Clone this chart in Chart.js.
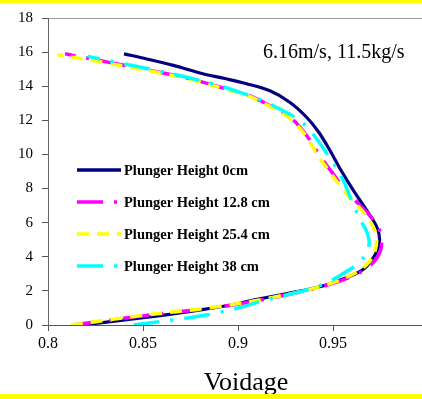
<!DOCTYPE html>
<html><head><meta charset="utf-8">
<script src="https://cdn.jsdelivr.net/npm/chart.js@4.4.0/dist/chart.umd.min.js"></script>
<style>
html,body{margin:0;padding:0;background:#fff;overflow:hidden;}
#wrap{position:relative;width:422px;height:399px;overflow:hidden;}
#topband{position:absolute;left:0;top:0;width:422px;height:3px;background:#ffff00;}
#botband{position:absolute;left:0;top:394px;width:422px;height:5px;background:#ffff00;}
canvas{position:absolute;left:0;top:0;}
</style></head><body>
<div id="wrap"><canvas id="c" width="444" height="399"></canvas><div id="topband"></div><div id="botband"></div></div>
<script>
// ---- data ----
const seriesLabels = ['Plunger Height 0cm', 'Plunger Height 12.8 cm', 'Plunger Height 25.4 cm', 'Plunger Height 38 cm'];
const heights0 = [0, 0.4, 0.8, 1.17, 1.46, 1.85, 2.24, 2.82, 3.31, 4.19, 4.97, 5.75, 6.72, 7.89, 9.16, 10.23, 11.3, 12.18, 13.05, 13.73, 14.16, 14.45, 14.75, 15.22, 15.6, 15.9];
const voidage0 = [0.818, 0.848, 0.875, 0.896, 0.908, 0.926, 0.943, 0.958, 0.9665, 0.9725, 0.9745, 0.973, 0.9677, 0.9607, 0.9537, 0.9484, 0.9425, 0.9361, 0.9274, 0.9168, 0.904, 0.893, 0.881, 0.866, 0.852, 0.840];
const heights1 = [0, 0.55, 1.07, 1.66, 2.34, 3.12, 3.7, 4.3, 4.97, 5.55, 6.33, 7.1, 7.7, 8.87, 9.94, 11.2, 12.18, 12.86, 13.44, 13.78, 14.43, 14.9, 15.4, 15.9];
const voidage1 = [0.813, 0.851, 0.891, 0.921, 0.947, 0.965, 0.9715, 0.9748, 0.9756, 0.9745, 0.970, 0.9635, 0.958, 0.950, 0.943, 0.9355, 0.9274, 0.9168, 0.9063, 0.8958, 0.875, 0.855, 0.832, 0.809];
const heights2 = [0, 0.55, 1.07, 1.66, 2.34, 3.12, 3.7, 4.3, 4.97, 5.55, 6.33, 7.1, 7.7, 8.87, 9.94, 11.2, 12.18, 12.86, 13.44, 13.78, 14.43, 14.9, 15.4, 15.85];
const voidage2 = [0.812, 0.849, 0.889, 0.920, 0.946, 0.963, 0.969, 0.972, 0.973, 0.972, 0.968, 0.962, 0.957, 0.949, 0.942, 0.935, 0.9265, 0.916, 0.9055, 0.895, 0.874, 0.853, 0.829, 0.805];
const heights3 = [0, 0.3, 0.6, 1.0, 1.46, 2.05, 2.5, 3.02, 3.5, 4.1, 4.77, 5.4, 5.94, 7.1, 8.47, 9.84, 11.4, 12.1, 12.66, 13.2, 13.64, 14.1, 14.5, 14.95, 15.35, 15.75];
const voidage3 = [0.845, 0.866, 0.884, 0.900, 0.9145, 0.936, 0.947, 0.9554, 0.962, 0.967, 0.969, 0.968, 0.9655, 0.9605, 0.9554, 0.948, 0.938, 0.931, 0.922, 0.912, 0.901, 0.888, 0.874, 0.856, 0.838, 0.821];
const xTickValues = [0.8, 0.85, 0.9, 0.95];
const xTickLabels = ['0.8', '0.85', '0.9', '0.95'];
const annotationText = '6.16m/s, 11.5kg/s';
const axisTitle = 'Voidage';

const toPts = (hs, vs) => hs.map((h, i) => ({x: vs[i], y: h}));
const colors = ['#000080', '#ff00ff', '#ffff00', '#00ffff'];
const dashes = [[], [26, 11, 3, 11], [12, 8], [26, 11, 3, 11]];
const pts = [toPts(heights0, voidage0), toPts(heights1, voidage1), toPts(heights2, voidage2), toPts(heights3, voidage3)];

const serif = "'Liberation Serif', 'Times New Roman', serif";

const overlay = {
  id: 'overlay',
  afterDatasetsDraw(chart) {
    const ctx = chart.ctx;
    ctx.save();
    ctx.fillStyle = '#000';
    ctx.font = '20px ' + serif;
    ctx.textBaseline = 'middle';
    ctx.textAlign = 'left';
    ctx.fillText(annotationText, 263, 53);
    chart.data.datasets.forEach((ds, i) => {
      const y = 170 + 32 * i;
      ctx.beginPath();
      ctx.setLineDash(ds.borderDash || []);
      ctx.lineDashOffset = 0;
      ctx.strokeStyle = ds.borderColor;
      ctx.lineWidth = 3.5;
      ctx.moveTo(77, y);
      ctx.lineTo(121, y);
      ctx.stroke();
      ctx.setLineDash([]);
      ctx.fillStyle = '#000';
      ctx.font = 'bold 14.5px ' + serif;
      ctx.fillText(ds.label, 124, y + 1);
    });
    ctx.restore();
  }
};

new Chart(document.getElementById('c'), {
  type: 'scatter',
  data: {
    datasets: pts.map((p, i) => ({
      label: seriesLabels[i],
      data: p,
      showLine: true,
      borderColor: colors[i],
      backgroundColor: colors[i],
      borderWidth: i === 0 ? 3.2 : 3.5,
      borderDash: dashes[i],
      pointRadius: 0,
      tension: 0.35,
      fill: false,
      order: 4 - i
    }))
  },
  options: {
    responsive: false,
    animation: false,
    layout: {padding: {top: 17, right: 0, bottom: 0, left: 0}},
    plugins: {legend: {display: false}, tooltip: {enabled: false}},
    scales: {
      x: {
        type: 'linear',
        min: 0.8,
        max: 1.0084,
        afterBuildTicks: s => { s.ticks = xTickValues.map(v => ({value: v})); },
        afterFit: s => { s.height = 74; },
        ticks: {
          font: {family: serif, size: 16},
          color: '#000',
          padding: 3,
          maxRotation: 0,
          callback: (v) => { const k = xTickValues.findIndex(t => Math.abs(t - v) < 1e-6); return k >= 0 ? xTickLabels[k] : ''; }
        },
        grid: {drawOnChartArea: false, drawTicks: true, tickLength: 6, tickColor: '#555'},
        border: {display: true, color: '#555', width: 1},
        title: {display: true, text: axisTitle, font: {family: serif, size: 26}, color: '#000', padding: {top: 0, bottom: 0}}
      },
      y: {
        min: 0,
        max: 18,
        afterFit: s => { s.width = 48; },
        ticks: {stepSize: 2, font: {family: serif, size: 15}, color: '#000', padding: 9},
        grid: {
          color: c => (c.tick && c.tick.value === 18) ? '#9a9a9a' : 'rgba(0,0,0,0)',
          tickColor: '#555',
          tickLength: 6,
          drawTicks: true
        },
        border: {display: true, color: '#666', width: 1}
      }
    }
  },
  plugins: [overlay]
});
</script>
</body></html>
